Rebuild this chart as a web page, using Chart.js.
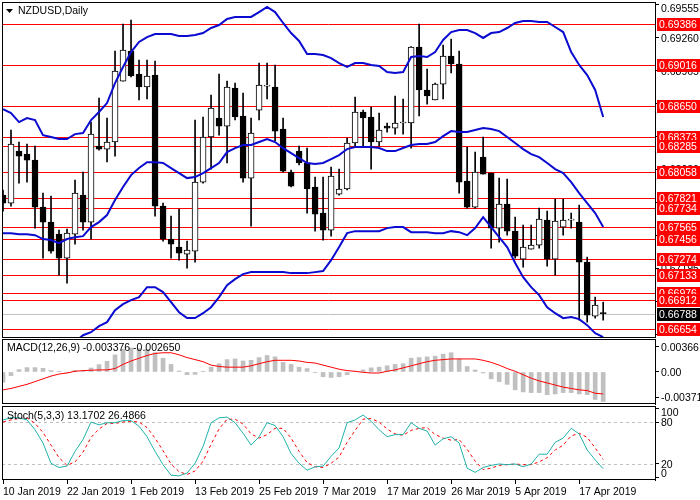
<!DOCTYPE html>
<html><head><meta charset="utf-8">
<script src="https://cdn.jsdelivr.net/npm/chart.js@4/dist/chart.umd.min.js"></script>
<style>
html,body{margin:0;padding:0;background:#fff;width:700px;height:500px;overflow:hidden}
canvas{position:absolute;left:0}
</style></head><body>
<canvas id="c1" style="top:0px" width="700" height="338"></canvas>
<canvas id="c2" style="top:338px" width="700" height="67"></canvas>
<canvas id="c3" style="top:405px" width="700" height="95"></canvas>
<script>
const openP=[.67850,.67778,.68244,.68217,.68163,.67742,.67608,.67500,.67285,.67500,
.67850,.67608,.68289,.68262,.68325,.68871,.69140,.68934,.68818,.68925,
.67751,.67456,.67384,.67321,.67348,.67966,.68370,.68540,.68468,.68809,
.68558,.68002,.68611,.68826,.68818,.68441,.68056,.68244,.68137,.67922,
.67689,.67536,.67859,.67904,.68316,.68594,.68549,.68325,.68468,.68450,
.68495,.68495,.69176,.68791,.68701,.68844,.69095,.69024,.67975,.67742,
.68190,.68047,.67554,.67769,.67527,.67276,.67366,.67402,.67626,.67276,
.67563,.67626,.67608,.67250,.66766,.66790];
const highP=[.67895,.68432,.68325,.68307,.68289,.67868,.67841,.67536,.67545,.67984,
.68056,.68504,.68719,.68540,.69140,.69382,.69418,.69059,.69059,.69050,
.67778,.67662,.67724,.67438,.68522,.68549,.68746,.68934,.68871,.68853,
.68764,.68540,.69033,.69033,.69015,.68540,.68074,.68289,.68271,.68011,
.68011,.68101,.68083,.68361,.68728,.68611,.68638,.68585,.68495,.68737,
.68710,.69180,.69382,.68979,.68853,.69194,.69248,.69140,.68280,.68235,
.68370,.68047,.68002,.67993,.67653,.67581,.67581,.67733,.67706,.67814,
.67814,.67689,.67760,.67294,.66936,.66891];
const lowP=[.67706,.67751,.67957,.67966,.67554,.67285,.67330,.67133,.67061,.67411,
.67536,.67456,.68253,.68146,.68199,.68871,.68907,.68701,.68710,.67662,
.67438,.67285,.67267,.67196,.67250,.67957,.68083,.68387,.68137,.68522,
.67966,.67572,.68522,.68710,.68334,.68056,.67922,.68119,.67689,.67527,
.67447,.67482,.67850,.67895,.68289,.68289,.68083,.68289,.68414,.68396,
.68396,.68271,.68558,.68665,.68701,.68710,.68943,.67868,.67733,.67733,
.68038,.67375,.67429,.67491,.67285,.67205,.67366,.67375,.67214,.67133,
.67491,.67554,.66730,.66712,.66748,.66730];
const closeP=[.67778,.68307,.68199,.68163,.67742,.67608,.67348,.67285,.67509,.67868,
.67608,.68396,.68262,.68325,.68961,.69149,.68916,.68818,.68916,.67751,
.67456,.67411,.67330,.67357,.67966,.68370,.68629,.68468,.68818,.68549,
.68002,.68405,.68835,.68830,.68423,.68065,.67930,.68137,.67904,.67680,
.67536,.68020,.67904,.68316,.68594,.68540,.68325,.68432,.68450,.68495,
.68497,.69176,.68791,.68737,.68844,.69095,.69024,.67966,.67742,.68056,
.68038,.67554,.67769,.67527,.67303,.67384,.67402,.67635,.67276,.67617,
.67626,.67628,.67250,.66775,.66864,.66788];
const bbUpper=[.68620,.68585,.68504,.68540,.68522,.68387,.68370,.68352,.68352,.68396,
.68405,.68522,.68594,.68674,.68853,.68997,.69131,.69221,.69265,.69292,
.69292,.69292,.69274,.69274,.69283,.69301,.69346,.69373,.69427,.69445,
.69445,.69445,.69489,.69534,.69489,.69391,.69301,.69230,.69113,.69113,
.69104,.69077,.69032,.68997,.69032,.69032,.69015,.69006,.68952,.68943,
.68952,.69086,.69095,.69086,.69131,.69239,.69310,.69328,.69328,.69301,
.69257,.69301,.69310,.69346,.69391,.69409,.69409,.69400,.69400,.69355,
.69310,.69131,.69015,.68925,.68791,.68549];
const bbMid=[.67509,.67509,.67500,.67500,.67491,.67456,.67447,.67420,.67456,.67473,
.67482,.67563,.67608,.67671,.67805,.67922,.68029,.68092,.68145,.68145,
.68137,.68092,.68047,.68002,.68011,.68047,.68092,.68137,.68235,.68271,
.68298,.68298,.68325,.68352,.68325,.68271,.68226,.68181,.68137,.68128,
.68137,.68172,.68208,.68262,.68280,.68280,.68280,.68271,.68244,.68244,
.68271,.68298,.68307,.68307,.68325,.68378,.68423,.68414,.68414,.68432,
.68450,.68441,.68423,.68370,.68316,.68262,.68217,.68190,.68137,.68083,
.68047,.67966,.67868,.67778,.67689,.67563];
const bbLower=[.66192,.66192,.66147,.66147,.66192,.66237,.66327,.66416,.66479,.66533,
.66595,.66622,.66676,.66712,.66819,.66873,.66909,.66936,.67025,.67025,
.66981,.66891,.66801,.66748,.66748,.66792,.66846,.66936,.67043,.67097,
.67142,.67160,.67160,.67160,.67160,.67160,.67151,.67151,.67151,.67160,
.67169,.67267,.67384,.67509,.67527,.67527,.67527,.67527,.67554,.67563,
.67563,.67518,.67518,.67518,.67509,.67509,.67527,.67518,.67491,.67554,
.67653,.67563,.67473,.67384,.67241,.67115,.67025,.66954,.66846,.66792,
.66748,.66757,.66739,.66685,.66613,.66578];
const levels=[0.69386,0.69016,0.68650,0.68373,0.68285,0.68058,0.67821,0.67734,0.67565,0.67456,0.67274,0.67133,0.66976,0.66912,0.66654];
const lastPrice=0.66788;
const priceTicks=[0.69555,0.69260,0.68965,0.68670,0.68375,0.68080,0.67785,0.67490,0.67195,0.66900,0.66600];
const priceTickLabels=priceTicks.map(v=>v.toFixed(5));
const macdHist=[-0.0015,-0.00053,0.00034,0.00063,0.00063,0.00053,0.0002,0.00005,-0.00005,0.00024,
0.0001,0.00058,0.00107,0.00155,0.0025,0.0033,0.0035,0.0034,0.0033,0.0028,
0.002,0.0011,0.00015,-0.0004,-0.00035,0.0001,0.0007,0.0012,0.0018,0.0019,
0.0016,0.0017,0.0021,0.0024,0.0022,0.0014,0.0011,0.0007,0.0005,-0.00005,
-0.0007,-0.0008,-0.0007,-0.0004,0.0001,0.0003,0.0006,0.0007,0.0009,0.0011,
0.0012,0.002,0.0021,0.0022,0.0023,0.0026,0.0028,0.0019,0.0008,0.0003,
-0.00015,-0.001,-0.0014,-0.0018,-0.0026,-0.0029,-0.003,-0.003,-0.0033,-0.0032,
-0.003,-0.003,-0.0032,-0.0033,-0.004,-0.0043];
const macdSignal=[-0.0026,-0.0024,-0.0021,-0.0018,-0.0014,-0.001,-0.0006,-0.0003,-0.00015,0.0001,
0.0002,0.00025,0.0003,0.0003,0.0005,0.0011,0.0016,0.002,0.0024,0.0027,
0.0028,0.0028,0.0025,0.0021,0.0018,0.0015,0.001,0.0008,0.0007,0.0007,
0.0007,0.0009,0.0012,0.0015,0.0017,0.0017,0.0017,0.0016,0.0014,0.0013,
0.001,0.0007,0.0004,0.0002,0.0001,-0.00005,-0.00015,-0.00015,0.0001,0.0003,
0.0006,0.0009,0.0012,0.0015,0.0017,0.0018,0.0019,0.0019,0.0019,0.0019,
0.0017,0.0014,0.001,0.0005,0.0001,-0.0004,-0.0009,-0.0013,-0.0016,-0.0019,
-0.0022,-0.0024,-0.0026,-0.0027,-0.0031,-0.0032];
const macdTicks=[0.00366,0,-0.003711];
const macdTickLabels=["0.00366","0.00","-0.003711"];
const stochK=[83,86,86,83,69,50,21,15,17,38,
55,80,76,79,79,82,82,74,59,38,
19,4,3,7,21,45,79,86,87,79,
64,47,59,79,75,59,35,21,11,16,
17,31,43,79,83,90,81,69,59,62,
62,79,71,67,47,56,59,50,14,8,
15,18,20,19,20,16,20,34,34,51,
57,71,63,40,26,13.17];
const stochD=[80,83,85,86,78,65,47,29,18,23,
37,58,70,78,78,80,81,80,72,57,
39,20,9,5,10,24,48,70,84,84,
77,63,57,62,71,71,57,38,22,16,
15,21,30,51,68,84,85,80,70,63,
61,68,71,72,62,57,54,55,41,24,
12,14,18,19,20,19,19,23,29,40,
47,60,64,58,43,26.49];
const stochTicks=[100,80,20,0];
const stochTickLabels=["100","80","20","0"];
const dateLabels=["10 Jan 2019","22 Jan 2019","1 Feb 2019","13 Feb 2019","25 Feb 2019","7 Mar 2019","17 Mar 2019","26 Mar 2019","5 Apr 2019","17 Apr 2019"];
const labelStep=8;

const FONT="'Liberation Sans', Arial, sans-serif";
Chart.defaults.font.family=FONT;
Chart.defaults.font.size=10;
Chart.defaults.color="#000";
const idx=openP.map((_,i)=>i);
const XMIN=-0.125, XMAX=81.475;

function xScale(show){
  const s={type:'linear',min:XMIN,max:XMAX,offset:false,display:show,grid:{display:false,offset:false},border:{display:false}};
  if(show){
    s.afterBuildTicks=sc=>{sc.ticks=dateLabels.map((_,k)=>({value:k*labelStep}));};
    s.ticks={autoSkip:false,maxRotation:0,align:'start',padding:2,callback:(v)=>dateLabels[Math.round(v/labelStep)]||'',font:{size:10.5}};
    s.grid={display:true,offset:false,drawOnChartArea:false,tickLength:4,color:'#000'};
    s.afterFit=sc=>{sc.height=20;};
  }
  return s;
}
function yScale(min,max,ticks){
  return {type:'linear',position:'right',min,max,
    grid:{display:true,drawOnChartArea:false,tickLength:4,color:'#000'},
    border:{display:true,color:'#000'},
    afterBuildTicks:sc=>{sc.ticks=ticks.map(v=>({value:v}));},
    afterFit:sc=>{sc.width=45;},
    ticks:{display:false}};
}
function axisLabels(ticks,labels){return {id:'al',afterDraw(c){const ys=c.scales.y,a=c.chartArea,ctx=c.ctx;ctx.save();ctx.font="10.5px "+FONT;ctx.fillStyle='#000';ctx.textBaseline='middle';ticks.forEach((v,k)=>{let y=Math.round(ys.getPixelForValue(v))+1;y=Math.max(a.top+7,Math.min(a.bottom-6,y));ctx.fillText(labels[k],a.right+6,y);});ctx.restore();}};}
const frame={id:'frame',afterDraw(c){const a=c.chartArea,ctx=c.ctx;ctx.save();ctx.strokeStyle='#000';ctx.lineWidth=1;ctx.strokeRect(Math.round(a.left)+0.5,Math.round(a.top)+0.5,Math.round(a.right-a.left),Math.round(a.bottom-a.top)-1);ctx.restore();}};
function title(text,x,y,tri){return {id:'title'+y,afterDraw(c){const ctx=c.ctx;ctx.save();ctx.font="10.5px "+FONT;ctx.fillStyle='#000';ctx.textBaseline='middle';ctx.fillText(text,x,y);if(tri){ctx.beginPath();ctx.moveTo(6,y-2);ctx.lineTo(13,y-2);ctx.lineTo(9.5,y+2);ctx.closePath();ctx.fill();}ctx.restore();}};}

const levelPlugin={id:'levels',
 beforeDatasetsDraw(c){const ys=c.scales.y,a=c.chartArea,ctx=c.ctx;ctx.save();ctx.lineWidth=1;
  ctx.strokeStyle='#c0c0c0';let py=Math.round(ys.getPixelForValue(lastPrice))+0.5;ctx.beginPath();ctx.moveTo(a.left,py);ctx.lineTo(a.right,py);ctx.stroke();
  ctx.strokeStyle='#ff0000';levels.forEach(v=>{const y=Math.round(ys.getPixelForValue(v))+0.5;ctx.beginPath();ctx.moveTo(a.left,y);ctx.lineTo(a.right,y);ctx.stroke();});ctx.restore();},
 afterDraw(c){const ys=c.scales.y,a=c.chartArea,ctx=c.ctx;ctx.save();ctx.font="10.5px "+FONT;ctx.textBaseline='middle';
  const box=(v,bg)=>{const y=ys.getPixelForValue(v);ctx.fillStyle=bg;ctx.fillRect(a.right+2,Math.round(y)-6,44,13);ctx.fillStyle='#fff';ctx.fillText(v.toFixed(5),a.right+4,Math.round(y)+1);};
  levels.forEach(v=>box(v,'#ff0000'));box(lastPrice,'#000');ctx.restore();}};

new Chart(document.getElementById('c1'),{
 data:{datasets:[
  {type:'line',data:idx.map(i=>({x:i,y:bbUpper[i]})),borderColor:'#0a0ad0',borderWidth:2,pointRadius:0,order:1},
  {type:'line',data:idx.map(i=>({x:i,y:bbMid[i]})),borderColor:'#0a0ad0',borderWidth:2,pointRadius:0,order:1},
  {type:'line',data:idx.map(i=>({x:i,y:bbLower[i]})),borderColor:'#0a0ad0',borderWidth:2,pointRadius:0,order:1},
  {type:'bar',data:idx.map(i=>({x:i,y:[lowP[i],highP[i]]})),backgroundColor:'#000',barThickness:1,grouped:false,order:3},
  {type:'bar',data:idx.map(i=>({x:i,y:[openP[i],closeP[i]]})),backgroundColor:idx.map(i=>closeP[i]>=openP[i]?'#fff':'#000'),borderColor:'#000',borderWidth:1,borderSkipped:false,barThickness:6,minBarLength:1,grouped:false,order:2}
 ]},
 options:{responsive:false,animation:false,devicePixelRatio:1,events:[],
  layout:{padding:{top:2,left:2,right:0,bottom:0}},
  plugins:{legend:{display:false},tooltip:{enabled:false}},
  scales:{x:xScale(false),y:yScale(0.66570,0.69579,priceTicks)}},
 plugins:[axisLabels(priceTicks,priceTickLabels),levelPlugin,frame,title('NZDUSD,Daily',18,11,true)]
});

new Chart(document.getElementById('c2'),{
 data:{datasets:[
  {type:'line',data:idx.map(i=>({x:i,y:macdSignal[i]})),borderColor:'#ff0000',borderWidth:1,pointRadius:0,order:1},
  {type:'bar',data:idx.map(i=>({x:i,y:macdHist[i]})),backgroundColor:'#c0c0c0',barThickness:4,order:2}
 ]},
 options:{responsive:false,animation:false,devicePixelRatio:1,events:[],
  layout:{padding:{top:1,left:2,right:0,bottom:1}},
  plugins:{legend:{display:false},tooltip:{enabled:false}},
  scales:{x:xScale(false),y:yScale(-0.00466,0.0048,macdTicks)}},
 plugins:[axisLabels(macdTicks,macdTickLabels),frame,title('MACD(12,26,9) -0.003376 -0.002650',7,10,false)]
});

const stochLevels={id:'sl',beforeDatasetsDraw(c){const ys=c.scales.y,a=c.chartArea,ctx=c.ctx;ctx.save();ctx.strokeStyle='#c0c0c0';ctx.setLineDash([3,3]);[80,20].forEach(v=>{const y=Math.round(ys.getPixelForValue(v))+0.5;ctx.beginPath();ctx.moveTo(a.left,y);ctx.lineTo(a.right,y);ctx.stroke();});ctx.restore();}};
new Chart(document.getElementById('c3'),{
 data:{datasets:[
  {type:'line',data:idx.map(i=>({x:i,y:stochK[i]})),borderColor:'#20b2aa',borderWidth:1,pointRadius:0},
  {type:'line',data:idx.map(i=>({x:i,y:stochD[i]})),borderColor:'#ff0000',borderWidth:1,borderDash:[3,3],pointRadius:0}
 ]},
 options:{responsive:false,animation:false,devicePixelRatio:1,events:[],
  layout:{padding:{top:1,left:2,right:0,bottom:0}},
  plugins:{legend:{display:false},tooltip:{enabled:false}},
  scales:{x:xScale(true),y:yScale(-2.9,102.9,stochTicks)}},
 plugins:[axisLabels(stochTicks,stochTickLabels),stochLevels,frame,title('Stoch(5,3,3) 13.1702 26.4866',7,11,false)]
});
</script></body></html>
